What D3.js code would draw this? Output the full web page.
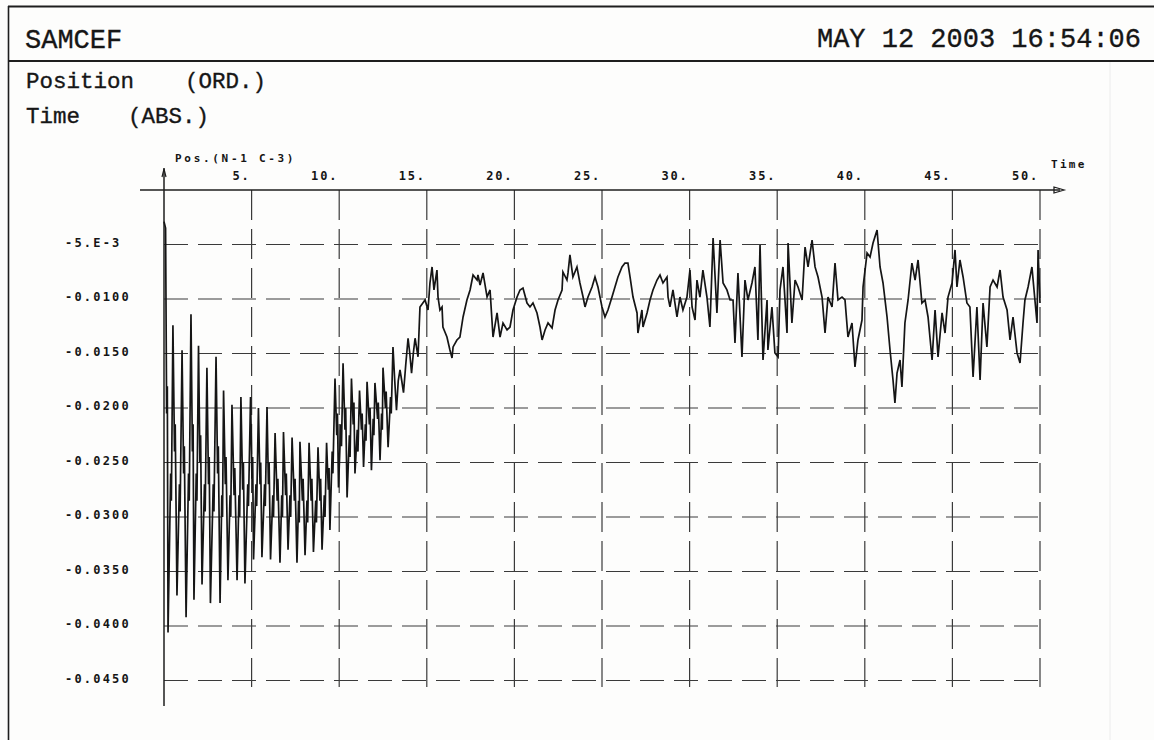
<!DOCTYPE html>
<html><head><meta charset="utf-8">
<script src="https://cdn.jsdelivr.net/npm/d3@7"></script>
<style>body{margin:0;background:#fdfdfc}svg{display:block}</style>
</head><body><svg id="c" width="1154" height="740"></svg>
<script>
const headerLeft = "SAMCEF";
const headerRight = "MAY 12 2003 16:54:06";
const ordinateLabel = ["Position", "(ORD.)"];
const abscissaLabel = ["Time", "(ABS.)"];
const curveLabel = "Pos.(N-1 C-3)";
const xAxisName = "Time";
const xTicks = [5, 10, 15, 20, 25, 30, 35, 40, 45, 50];
const xTickLabels = ["5.", "10.", "15.", "20.", "25.", "30.", "35.", "40.", "45.", "50."];
const yTicks = [-0.005, -0.010, -0.015, -0.020, -0.025, -0.030, -0.035, -0.040, -0.045];
const yTickLabels = ["-5.E-3", "-0.0100", "-0.0150", "-0.0200", "-0.0250", "-0.0300", "-0.0350", "-0.0400", "-0.0450"];

// [time, position]
const positionSeries = [
[0.00,-2.9e-3],[0.09,-3.5e-3],[0.15,-20.5e-3],[0.19,-18.0e-3],[0.23,-40.6e-3],[0.38,-26.0e-3],[0.42,-28.5e-3],[0.51,-12.4e-3],
[0.60,-24.0e-3],[0.64,-21.5e-3],[0.74,-37.2e-3],[0.88,-27.0e-3],[0.92,-29.5e-3],[1.03,-14.7e-3],
[1.12,-26.0e-3],[1.16,-23.5e-3],[1.26,-39.2e-3],[1.40,-26.0e-3],[1.44,-28.5e-3],[1.54,-11.4e-3],
[1.62,-24.0e-3],[1.66,-21.5e-3],[1.71,-37.6e-3],[1.84,-26.0e-3],[1.88,-28.5e-3],[1.97,-14.3e-3],
[2.05,-25.0e-3],[2.09,-22.5e-3],[2.17,-36.2e-3],[2.31,-27.0e-3],[2.35,-29.5e-3],[2.45,-16.3e-3],
[2.54,-27.0e-3],[2.58,-24.5e-3],[2.65,-37.9e-3],[2.81,-27.0e-3],[2.85,-29.5e-3],[2.97,-15.3e-3],
[3.06,-26.0e-3],[3.10,-23.5e-3],[3.20,-37.9e-3],[3.30,-28.0e-3],[3.34,-30.0e-3],[3.40,-18.4e-3],
[3.50,-27.0e-3],[3.54,-24.5e-3],[3.65,-35.8e-3],[3.77,-28.0e-3],[3.81,-30.0e-3],[3.88,-19.7e-3],
[4.00,-28.0e-3],[4.04,-25.5e-3],[4.17,-35.8e-3],[4.28,-28.0e-3],[4.32,-30.0e-3],[4.39,-19.0e-3],
[4.49,-27.5e-3],[4.53,-25.0e-3],[4.62,-36.1e-3],[4.78,-27.0e-3],[4.82,-29.0e-3],[4.94,-19.0e-3],
[5.02,-26.5e-3],[5.06,-24.5e-3],[5.11,-33.9e-3],[5.25,-27.0e-3],[5.29,-29.0e-3],[5.39,-20.0e-3],
[5.48,-27.0e-3],[5.52,-25.0e-3],[5.59,-33.7e-3],[5.74,-27.0e-3],[5.78,-29.0e-3],[5.88,-19.9e-3],
[5.96,-27.0e-3],[6.00,-25.0e-3],[6.08,-33.9e-3],[6.21,-28.0e-3],[6.25,-30.0e-3],[6.34,-22.3e-3],
[6.46,-28.5e-3],[6.50,-26.5e-3],[6.62,-34.2e-3],[6.72,-28.0e-3],[6.76,-30.0e-3],[6.82,-22.2e-3],
[6.94,-28.0e-3],[6.98,-26.0e-3],[7.08,-33.0e-3],[7.19,-28.0e-3],[7.23,-30.0e-3],[7.31,-22.7e-3],
[7.44,-28.5e-3],[7.48,-26.5e-3],[7.59,-34.2e-3],[7.68,-28.5e-3],[7.72,-30.5e-3],[7.76,-23.1e-3],
[7.90,-28.5e-3],[7.94,-26.5e-3],[8.05,-33.5e-3],[8.16,-28.5e-3],[8.20,-30.5e-3],[8.28,-23.2e-3],
[8.40,-28.5e-3],[8.44,-26.5e-3],[8.53,-33.2e-3],[8.66,-28.5e-3],[8.70,-30.5e-3],[8.79,-23.6e-3],
[8.90,-28.5e-3],[8.94,-26.5e-3],[9.02,-33.0e-3],[9.15,-28.0e-3],[9.19,-30.0e-3],[9.28,-23.2e-3],
[9.38,-27.5e-3],[9.42,-25.5e-3],[9.47,-31.2e-3],[9.60,-24.0e-3],[9.64,-26.0e-3],[9.76,-17.3e-3],
[9.86,-22.5e-3],[9.90,-20.5e-3],[9.96,-27.3e-3],[10.09,-21.5e-3],[10.13,-23.5e-3],[10.22,-15.9e-3],
[10.33,-22.0e-3],[10.37,-20.0e-3],[10.45,-28.2e-3],[10.58,-22.5e-3],[10.62,-24.5e-3],[10.70,-17.3e-3],
[10.80,-21.5e-3],[10.84,-19.5e-3],[10.90,-26.0e-3],[11.03,-22.0e-3],[11.07,-24.0e-3],[11.16,-18.4e-3],
[11.27,-22.0e-3],[11.31,-20.5e-3],[11.39,-25.4e-3],[11.49,-21.5e-3],[11.53,-23.0e-3],[11.59,-17.6e-3],
[11.72,-21.5e-3],[11.76,-20.0e-3],[11.84,-25.7e-3],[11.94,-21.0e-3],[11.98,-22.5e-3],[12.04,-17.7e-3],
[12.19,-21.0e-3],[12.23,-19.5e-3],[12.33,-24.8e-3],[12.42,-20.5e-3],[12.46,-22.0e-3],[12.50,-16.3e-3],
[12.64,-20.0e-3],[12.68,-18.5e-3],[12.79,-23.6e-3],[12.93,-19.0e-3],[12.97,-20.5e-3],[13.07,-14.4e-3],
[13.17,-17.5e-3],[13.27,-20.2e-3],
[13.37,-17.5e-3],[13.47,-16.5e-3],[13.57,-17.5e-3],[13.67,-18.6e-3],[13.80,-16.0e-3],[13.93,-13.6e-3],[14.03,-15.0e-3],[14.13,-16.8e-3],
[14.23,-15.0e-3],[14.33,-13.6e-3],[14.50,-15.3e-3],
[14.61,-10.73e-3],[14.90,-10.09e-3],[15.07,-11.01e-3],[15.18,-8.53e-3],[15.30,-7.06e-3],[15.41,-9.17e-3],[15.58,-7.34e-3],[15.64,-9.82e-3],
[15.75,-11.01e-3],[15.87,-10.73e-3],[15.92,-12.57e-3],[16.15,-13.49e-3],[16.32,-14.68e-3],[16.44,-15.41e-3],[16.50,-14.40e-3],[16.72,-13.76e-3],
[16.89,-13.49e-3],[17.07,-11.65e-3],[17.29,-10.09e-3],[17.47,-9.17e-3],[17.64,-7.80e-3],[17.87,-8.26e-3],[17.92,-7.80e-3],[18.04,-8.72e-3],
[18.21,-7.61e-3],[18.44,-9.82e-3],[18.61,-9.17e-3],[18.78,-13.49e-3],[19.01,-11.28e-3],[19.18,-13.49e-3],[19.35,-12.20e-3],[19.58,-12.84e-3],
[19.75,-12.57e-3],[19.92,-11.01e-3],[20.15,-9.82e-3],[20.32,-9.17e-3],[20.49,-8.99e-3],[20.72,-10.37e-3],[20.89,-10.73e-3],[21.06,-10.37e-3],
[21.29,-11.28e-3],[21.46,-12.57e-3],[21.58,-13.76e-3],[21.75,-12.84e-3],[21.92,-12.20e-3],[22.15,-12.66e-3],[22.32,-11.01e-3],[22.49,-10.09e-3],
[22.72,-9.17e-3],[22.77,-7.52e-3],[23.00,-8.26e-3],[23.06,-7.61e-3],[23.17,-5.96e-3],[23.34,-7.98e-3],[23.57,-7.06e-3],[23.74,-8.53e-3],
[23.92,-9.82e-3],[24.03,-10.73e-3],[24.20,-9.82e-3],[24.43,-8.90e-3],[24.60,-7.98e-3],[24.77,-8.90e-3],[25.00,-10.73e-3],[25.17,-11.65e-3],
[25.34,-11.01e-3],[25.57,-9.82e-3],[25.74,-8.90e-3],[25.91,-7.98e-3],[26.14,-7.06e-3],[26.31,-6.70e-3],[26.48,-6.70e-3],[26.60,-7.98e-3],
[26.77,-9.82e-3],[27.00,-11.28e-3],[27.05,-13.12e-3],[27.28,-11.01e-3],[27.34,-12.57e-3],[27.57,-11.28e-3],[27.74,-10.09e-3],[27.91,-9.17e-3],
[28.14,-8.26e-3],[28.31,-7.80e-3],[28.48,-8.53e-3],[28.71,-7.98e-3],[28.77,-9.82e-3],[28.88,-10.73e-3],[29.05,-9.17e-3],[29.28,-11.65e-3],
[29.45,-9.82e-3],[29.62,-11.01e-3],[29.85,-9.82e-3],[30.02,-7.34e-3],[30.14,-10.73e-3],[30.31,-11.93e-3],[30.42,-8.26e-3],[30.59,-9.82e-3],
[30.76,-7.34e-3],[30.99,-9.82e-3],[31.16,-12.57e-3],[31.34,-4.40e-3],[31.56,-11.28e-3],[31.74,-4.59e-3],[31.91,-8.53e-3],[32.13,-9.17e-3],
[32.31,-10.09e-3],[32.48,-10.09e-3],[32.59,-14.04e-3],[32.76,-7.61e-3],[32.99,-15.32e-3],[33.16,-8.26e-3],[33.33,-10.09e-3],[33.56,-8.53e-3],
[33.73,-7.06e-3],[33.90,-13.76e-3],[34.02,-5.05e-3],[34.19,-15.60e-3],[34.42,-10.09e-3],[34.47,-14.68e-3],[34.70,-10.73e-3],[34.87,-14.95e-3],
[35.05,-15.32e-3],[35.16,-9.17e-3],[35.33,-7.06e-3],[35.56,-13.12e-3],[35.62,-4.86e-3],[35.84,-12.20e-3],[36.02,-8.26e-3],[36.19,-8.90e-3],
[36.42,-10.09e-3],[36.59,-5.23e-3],[36.76,-7.06e-3],[36.99,-4.59e-3],[37.16,-7.06e-3],[37.33,-7.98e-3],[37.56,-9.82e-3],[37.73,-13.12e-3],
[37.90,-9.82e-3],[38.13,-10.73e-3],[38.30,-6.70e-3],[38.47,-10.09e-3],[38.70,-9.82e-3],[38.87,-10.09e-3],[39.04,-13.49e-3],[39.27,-12.20e-3],
[39.44,-16.24e-3],[39.61,-13.76e-3],[39.84,-11.93e-3],[39.90,-8.90e-3],[40.13,-5.78e-3],[40.30,-6.15e-3],[40.47,-4.86e-3],[40.70,-3.67e-3],
[40.87,-7.06e-3],[41.04,-8.53e-3],[41.27,-11.65e-3],[41.44,-14.68e-3],[41.61,-17.43e-3],[41.72,-19.54e-3],[41.84,-16.79e-3],[42.01,-15.60e-3],
[42.12,-18.07e-3],[42.29,-12.20e-3],[42.47,-10.09e-3],[42.69,-6.70e-3],[42.87,-8.26e-3],[43.04,-6.42e-3],[43.26,-10.37e-3],[43.44,-10.09e-3],
[43.61,-11.65e-3],[43.84,-15.60e-3],[44.01,-11.01e-3],[44.18,-15.32e-3],[44.41,-11.28e-3],[44.58,-13.12e-3],[44.75,-9.82e-3],[44.98,-8.53e-3],
[45.15,-5.50e-3],[45.26,-8.90e-3],[45.43,-6.42e-3],[45.61,-7.98e-3],[45.83,-10.37e-3],[46.00,-10.73e-3],[46.18,-17.16e-3],[46.40,-10.73e-3],
[46.58,-17.43e-3],[46.75,-10.37e-3],[46.97,-14.40e-3],[47.15,-8.90e-3],[47.32,-8.26e-3],[47.55,-8.90e-3],[47.72,-7.34e-3],[47.89,-9.82e-3],
[48.12,-11.01e-3],[48.29,-13.76e-3],[48.46,-11.65e-3],[48.69,-14.95e-3],[48.86,-15.87e-3],[49.03,-12.20e-3],[49.14,-10.09e-3],[49.32,-8.90e-3],
[49.54,-7.06e-3],[49.71,-10.09e-3],[49.83,-12.20e-3],[49.89,-5.50e-3],[50.00,-10.37e-3]
];

const svg = d3.select("#c");
const ink = "#1e1e1e";
const x = d3.scaleLinear().domain([0, 50]).range([164, 1040]);
const y = d3.scaleLinear().domain([0, -0.045]).range([190, 680.5]);

// frame
svg.append("line").attr("x1", 8).attr("x2", 1154).attr("y1", 6.5).attr("y2", 6.5).attr("stroke", ink).attr("stroke-width", 2);
svg.append("line").attr("x1", 8).attr("x2", 1154).attr("y1", 61).attr("y2", 61).attr("stroke", ink).attr("stroke-width", 2);
svg.append("line").attr("x1", 8.5).attr("x2", 8.5).attr("y1", 6).attr("y2", 740).attr("stroke", ink).attr("stroke-width", 1.6);
svg.append("line").attr("x1", 1110).attr("x2", 1110).attr("y1", 62).attr("y2", 740).attr("stroke", "#ececec").attr("stroke-width", 1);

const mono = "'Liberation Mono', 'DejaVu Sans Mono', monospace";
function headText(tx, ty, size, s, anchor) {
  svg.append("text").attr("x", tx).attr("y", ty).attr("text-anchor", anchor || "start")
    .attr("font-family", mono).attr("font-size", size).attr("fill", "#161616")
    .attr("stroke", "#161616").attr("stroke-width", 0.35).text(s);
}
headText(25, 48, 27, headerLeft);
headText(1141, 47, 27, headerRight, "end");
headText(26, 88, 22.5, ordinateLabel[0]);
headText(185, 88, 22.5, ordinateLabel[1]);
headText(26, 123, 22.5, abscissaLabel[0]);
headText(128, 123, 22.5, abscissaLabel[1]);

// grid
const gridColor = "#3a3a3a";
svg.append("g").selectAll("line").data(yTicks).join("line")
  .attr("x1", x(0)).attr("x2", x(50)).attr("y1", d => y(d)).attr("y2", d => y(d))
  .attr("stroke", gridColor).attr("stroke-width", 1.2).attr("stroke-dasharray", "24,10");
svg.append("g").selectAll("line").data(xTicks).join("line")
  .attr("x1", d => x(d)).attr("x2", d => x(d)).attr("y1", y(0)).attr("y2", 687)
  .attr("stroke", gridColor).attr("stroke-width", 1.2).attr("stroke-dasharray", "30,9");

// axes
svg.append("line").attr("x1", 140).attr("x2", 1060).attr("y1", y(0)).attr("y2", y(0)).attr("stroke", ink).attr("stroke-width", 1.5);
svg.append("path").attr("d", `M1054,${y(0)-3}L1064,${y(0)}L1054,${y(0)+3}Z`).attr("fill", "none").attr("stroke", ink).attr("stroke-width", 1.3);
svg.append("line").attr("x1", x(0)).attr("x2", x(0)).attr("y1", 168).attr("y2", 706).attr("stroke", ink).attr("stroke-width", 1.5);
svg.append("path").attr("d", `M${x(0)-2},177L${x(0)},169L${x(0)+2},177`).attr("fill", "none").attr("stroke", ink).attr("stroke-width", 1.2);

const tickFont = "'DejaVu Sans Mono', monospace";
svg.append("g").selectAll("text").data(yTicks).join("text")
  .attr("x", 65).attr("y", d => y(d) + 2).attr("font-family", tickFont).attr("font-weight", "bold")
  .attr("font-size", 12).attr("letter-spacing", 2.2).attr("fill", "#151515")
  .text((d, i) => yTickLabels[i]);
svg.append("g").selectAll("text").data(xTicks).join("text")
  .attr("x", d => x(d) - 1).attr("y", 180).attr("text-anchor", "end").attr("font-family", tickFont).attr("font-weight", "bold")
  .attr("font-size", 12).attr("letter-spacing", 1.8).attr("fill", "#151515")
  .text((d, i) => xTickLabels[i]);
svg.append("text").attr("x", 175).attr("y", 162).attr("font-family", tickFont).attr("font-weight", "bold")
  .attr("font-size", 11).attr("letter-spacing", 2.7).attr("fill", "#151515").text(curveLabel);
svg.append("text").attr("x", 1051).attr("y", 168).attr("font-family", tickFont).attr("font-weight", "bold")
  .attr("font-size", 11).attr("letter-spacing", 2.3).attr("fill", "#151515").text(xAxisName);

// curve
const line = d3.line().x(d => x(d[0])).y(d => y(d[1]));
svg.append("path").datum(positionSeries).attr("d", line)
  .attr("fill", "none").attr("stroke", "#151515").attr("stroke-width", 1.7).attr("stroke-linejoin", "miter");
</script></body></html>
